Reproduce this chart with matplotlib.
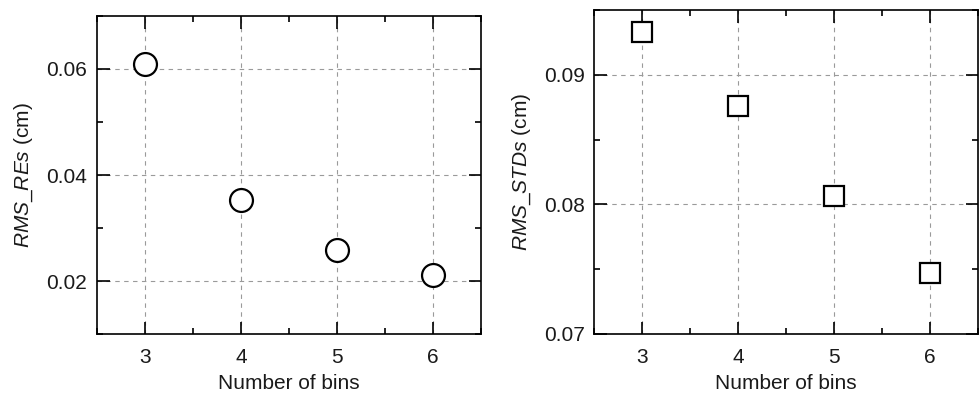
import matplotlib
matplotlib.use("Agg")
import matplotlib.pyplot as plt
from matplotlib.ticker import MultipleLocator

plt.rcParams["font.family"] = ["Liberation Sans", "DejaVu Sans"]
plt.rcParams["font.size"] = 15
plt.rcParams["mathtext.fontset"] = "custom"
plt.rcParams["mathtext.rm"] = "Liberation Sans"
plt.rcParams["mathtext.it"] = "Liberation Sans:italic"

# number of bins on the x axis
bins = [3, 4, 5, 6]
# left panel: RMS of relative errors (cm)
rms_res = [0.0610, 0.0353, 0.0258, 0.0211]
# right panel: RMS of standard deviations (cm)
rms_stds = [0.0933, 0.0876, 0.0806, 0.0747]


def style_axes(ax, ylim, ymajor, yminor):
    ax.set_xlim(2.5, 6.5)
    ax.set_ylim(*ylim)
    ax.set_xticks(bins)
    ax.xaxis.set_minor_locator(MultipleLocator(0.5))
    ax.yaxis.set_major_locator(MultipleLocator(ymajor))
    ax.yaxis.set_minor_locator(MultipleLocator(yminor))
    ax.yaxis.set_major_formatter("{x:.2f}")
    ax.tick_params(which="both", direction="in", top=True, right=True,
                   width=1.2, labelsize=15, labelcolor="#1a1a1a")
    ax.tick_params(axis="x", which="major", pad=10)
    ax.tick_params(axis="y", which="major", pad=7)
    ax.tick_params(which="major", length=9)
    ax.tick_params(which="minor", length=4.5)
    ax.grid(True, which="major", linestyle=(0, (4, 4)), color="#9a9a9a",
            linewidth=0.8)
    ax.set_axisbelow(True)
    for sp in ax.spines.values():
        sp.set_linewidth(1.2)
    ax.set_xlabel("Number of bins", fontsize=15, labelpad=5, color="#1a1a1a")


fig = plt.figure(figsize=(9.8, 3.95), dpi=100)
ax1 = fig.add_axes([0.099, 0.1544, 0.392, 0.8051])
ax2 = fig.add_axes([0.6064, 0.155, 0.3913, 0.8197])

ax1.plot(bins, rms_res, linestyle="none", marker="o", markersize=16.5,
         markerfacecolor="white", markeredgecolor="black",
         markeredgewidth=1.6, zorder=5)
style_axes(ax1, (0.01, 0.07), 0.02, 0.01)
ax1.set_ylabel(r"$\it{RMS\_REs}$ (cm)", fontsize=15, labelpad=8,
               color="#1a1a1a")

ax2.plot(bins, rms_stds, linestyle="none", marker="s", markersize=14.5,
         markerfacecolor="white", markeredgecolor="black",
         markeredgewidth=1.6, zorder=5)
style_axes(ax2, (0.07, 0.095), 0.01, 0.005)
ax2.set_ylabel(r"$\it{RMS\_STDs}$ (cm)", fontsize=15, labelpad=8,
               color="#1a1a1a")

fig.savefig("out.png", dpi=100)
